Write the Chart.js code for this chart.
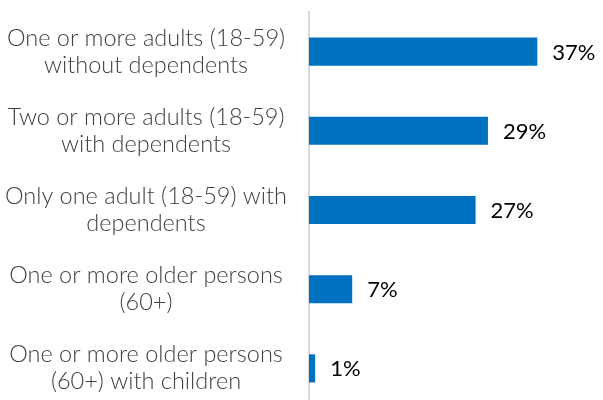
<!DOCTYPE html>
<html>
<head>
<meta charset="utf-8">
<script src="https://cdn.jsdelivr.net/npm/chart.js@4/dist/chart.umd.min.js"></script>
<style>
  html, body { margin: 0; padding: 0; background: #fff; overflow: hidden; }
  #wrap { width: 603px; height: 408px; }
</style>
</head>
<body>
<div id="wrap"><canvas id="c" width="603" height="408"></canvas></div>
<script>
// Household composition categories (two-line labels)
const categories = [
  ['One or more adults (18-59)', 'without dependents'],
  ['Two or more adults (18-59)', 'with dependents'],
  ['Only one adult (18-59) with', 'dependents'],
  ['One or more older persons', '(60+)'],
  ['One or more older persons', '(60+) with children']
];
// Share of households, percent
const shares = [37, 29, 27, 7, 1];
const valueSuffix = '%';

// Writes each bar's value just past its end
const valueLabels = {
  id: 'valueLabels',
  afterDatasetsDraw(chart) {
    const ctx = chart.ctx;
    const meta = chart.getDatasetMeta(0);
    ctx.save();
    ctx.font = '400 22px Lato';
    ctx.fillStyle = '#000000';
    ctx.textAlign = 'left';
    ctx.textBaseline = 'middle';
    meta.data.forEach((bar, i) => {
      ctx.fillText(shares[i] + valueSuffix, bar.x + 15, bar.y + 1);
    });
    ctx.restore();
  }
};

new Chart(document.getElementById('c'), {
  type: 'bar',
  data: {
    labels: categories,
    datasets: [{
      data: shares,
      backgroundColor: '#0070C0',
      borderWidth: 0,
      categoryPercentage: 1,
      barPercentage: 0.355
    }]
  },
  options: {
    indexAxis: 'y',
    responsive: false,
    animation: false,
    devicePixelRatio: 1,
    layout: { padding: { top: 12, right: 4, left: 0, bottom: 0 } },
    plugins: {
      legend: { display: false },
      tooltip: { enabled: false }
    },
    scales: {
      x: {
        display: false,
        min: 0,
        max: 47
      },
      y: {
        grid: { display: false, drawTicks: false },
        border: { display: true, color: '#D9D9D9', width: 2 },
        ticks: {
          crossAlign: 'center',
          padding: 22,
          color: '#404040',
          font: { family: "'Lato Light', Lato", size: 23.5, weight: 300, lineHeight: 1.15 }
        },
        afterFit(scale) {
          scale.width = 309;
          // labels sit well inside their bands, no extra edge room needed
          scale.paddingTop = 0;
          scale.paddingBottom = 0;
        }
      }
    }
  },
  plugins: [valueLabels]
});
</script>
</body>
</html>
